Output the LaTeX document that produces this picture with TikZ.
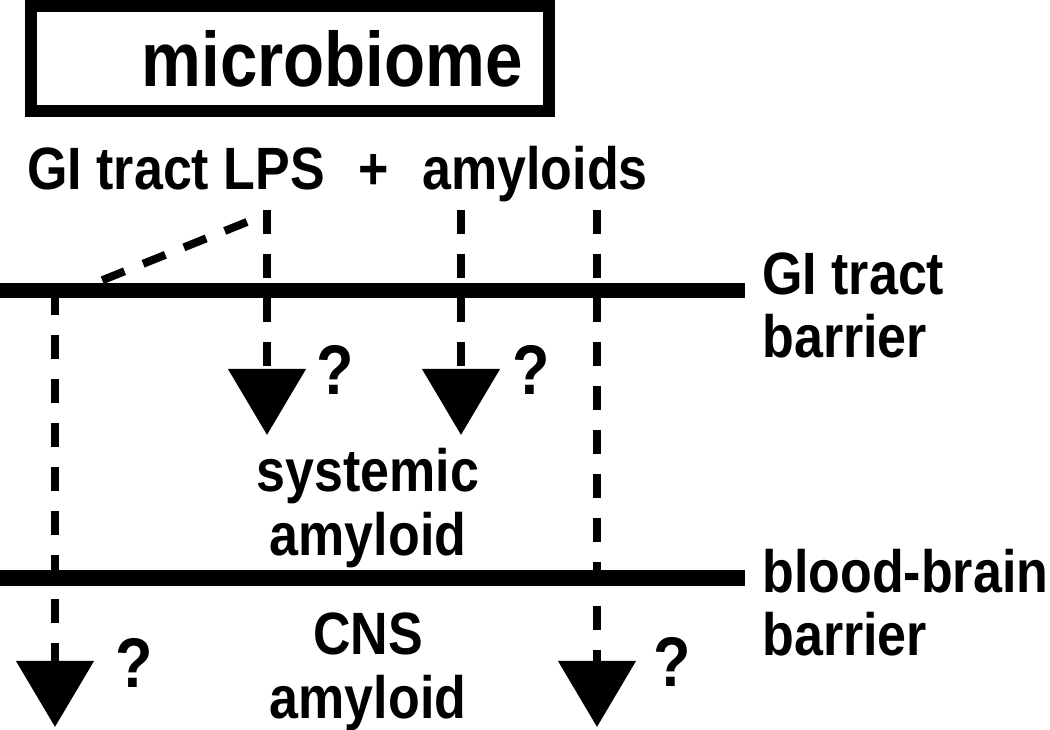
\documentclass[tikz,border=0pt]{standalone}
\usepackage{fontspec}
\setmainfont{Liberation Sans}[FakeStretch=0.87]
\usetikzlibrary{arrows.meta}

\begin{document}
\begin{tikzpicture}[
    x=0.2mm, y=-0.2mm,
    lbl/.style={font=\bfseries\fontsize{34}{36}\selectfont, inner sep=0pt},
    ask/.style={font=\bfseries\fontsize{40}{40}\selectfont, inner sep=0pt},
    srcbox/.style={draw, line width=2.4mm, minimum height=21mm, text width=93.2mm, inner xsep=5.2mm, align=right, font=\bfseries\fontsize{44}{44}\selectfont},
    barrier/.style={line width=3mm},
    leak/.style={dash pattern=on 4.8mm off 4mm, line width=1.6mm},
    enter/.style={leak, -{Triangle[length=13.2mm, width=15.2mm]}}
  ]
  \useasboundingbox (0,0) rectangle (1050,730);

  \node[srcbox] (micro) at (290,58.5) {microbiome};
  \node[lbl, anchor=base west] (lps) at (27,190) {GI tract LPS};
  \node[lbl, anchor=base] (plus) at (374,190) {+};
  \node[lbl, anchor=base west] (amy) at (422,190) {amyloids};

  % barriers
  \coordinate (giW) at (0,291);
  \coordinate (giE) at (745,291);
  \coordinate (bbbW) at (0,578);
  \coordinate (bbbE) at (745,578);
  \draw[barrier] (giW) -- (giE);
  \draw[barrier] (bbbW) -- (bbbE);
  \node[lbl, align=left, anchor=base west] (gilbl) at (762,358) {GI tract\\barrier};
  \node[lbl, align=left, anchor=base west] (bbblbl) at (762,656) {blood-brain\\barrier};

  \node[lbl, align=center, anchor=base] (sys) at (368,555) {systemic\\amyloid};
  \node[lbl, align=center, anchor=base] (cns) at (368,718) {CNS\\amyloid};

  % routes across the barriers
  \coordinate (lpsTop) at (267,210);
  \coordinate (lpsEnd) at (267,435);
  \coordinate (amyTop) at (461,210);
  \coordinate (amyEnd) at (461,435);
  \coordinate (farTop) at (597,210);
  \coordinate (farEnd) at (597,727);
  \coordinate (lpsKink) at (247,222);
  \coordinate (giHit) at (78,290);
  \coordinate (nearTop) at (55,291);
  \coordinate (nearEnd) at (55,727);

  \draw[enter] (lpsTop) -- (lpsEnd);
  \draw[enter] (amyTop) -- (amyEnd);
  \draw[enter] (farTop) -- (farEnd);
  \draw[leak] (lpsKink) -- (giHit);
  \draw[enter] (nearTop) -- (nearEnd);

  \node[ask] (q1) at (335,370) {?};
  \node[ask] (q2) at (531,370) {?};
  \node[ask] (q3) at (134,663) {?};
  \node[ask] (q4) at (672,662) {?};
\end{tikzpicture}
\end{document}
